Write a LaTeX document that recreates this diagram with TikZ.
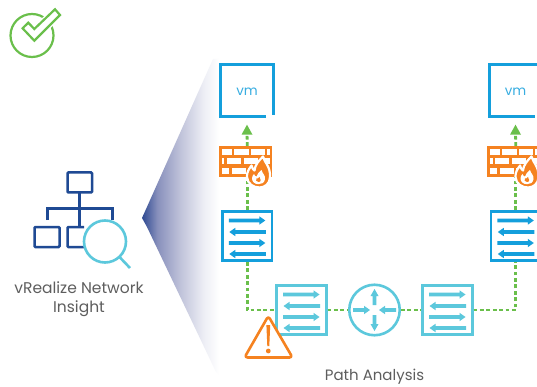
\documentclass[tikz,border=0pt]{standalone}
\usepackage{fontspec}
\setmainfont{Poppins}
\usetikzlibrary{arrows.meta,calc}
\definecolor{dkblue}{HTML}{1F4A94}
\definecolor{blu}{HTML}{149FDC}
\definecolor{cyn}{HTML}{5CC8DC}
\definecolor{grn}{HTML}{6ABF4B}
\definecolor{org}{HTML}{F58220}
\definecolor{txt}{HTML}{5E5E5E}
\definecolor{cone0}{HTML}{2F4A92}
\definecolor{cone1}{HTML}{8890BC}
\definecolor{cone2}{HTML}{C0C3DA}
\definecolor{cone3}{HTML}{EDEEF5}
\pgfdeclarehorizontalshading{conefade}{100bp}{
  color(0bp)=(cone0);
  color(25bp)=(cone0);
  color(35bp)=(cone1);
  color(50bp)=(cone2);
  color(65bp)=(cone3);
  color(75bp)=(white);
  color(100bp)=(white)}
\tikzset{
  swbox/.style={draw=#1,line width=2.6pt,fill=white,minimum width=49.5pt,minimum height=49.5pt,inner sep=0pt,outer sep=1.3pt},
  link/.style={draw=grn,line width=2.8pt,dash pattern=on 3.8pt off 2.6pt},
  label/.style={text=txt,font=\fontsize{15}{18}\selectfont,align=center,inner sep=0pt},
  bricks/.style={fill=white},
}
% horizontal arrow as a filled outline: start x, end x, y (relative)
\newcommand{\harrow}[4]{%
  \fill[#4] (#1,#3-1.9) -- ({#2-(#2-#1)/abs(#2-#1)*6},#3-1.9) -- ({#2-(#2-#1)/abs(#2-#1)*6},#3-4.2) -- (#2,#3)
    -- ({#2-(#2-#1)/abs(#2-#1)*6},#3+4.2) -- ({#2-(#2-#1)/abs(#2-#1)*6},#3+1.9) -- (#1,#3+1.9) -- cycle;}
\newcommand{\swarrows}[3]{%
  \begin{scope}[shift={(#1,#2)}]
    \harrow{-18.5}{18}{-15.5}{#3}
    \harrow{18.5}{-18}{-4}{#3}
    \harrow{-18.5}{18}{7}{#3}
    \harrow{18.5}{-18}{18}{#3}
  \end{scope}}
\newcommand{\firewall}[2]{%
  \begin{scope}[shift={(#1,#2)}]
    \fill[org] (0,0) rectangle (53.5,31);
    \foreach \a/\b/\c/\d in {3/13/3/9,15/30/3/9,32/46/3/9,48/51/3/9,
      3/5.5/12.5/18.5,8/22/12.5/18.5,25/39/12.5/18.5,41/51/12.5/18.5,
      3/10/22/28,13/27/22/28,29/44/22/28,46/51/22/28}
      \fill[bricks] (\a,\c) rectangle (\b,\d);
    % flame
    \path[fill=org,draw=white,line width=2.2pt,line join=round]
      (44.5,10.5) .. controls (46,17) and (52,20) .. (51.5,31)
      .. controls (51.5,38) and (46,41.5) .. (41,41.5)
      .. controls (35,41.5) and (29,38) .. (28.5,31)
      .. controls (28,26) and (31,22.5) .. (33,19.5)
      .. controls (33.5,22) and (34.5,23.5) .. (36,24.5)
      .. controls (36.5,19) and (40,15) .. (44.5,10.5) -- cycle;
    \path[fill=white]
      (43,24) .. controls (44,28) and (47,29) .. (46.5,33)
      .. controls (46,37) and (43,38.2) .. (40,38.2)
      .. controls (36.5,38.2) and (33.5,36) .. (33.5,32.5)
      .. controls (33.5,30.5) and (34.5,29) .. (35.5,28)
      .. controls (36,29.5) and (37,30.5) .. (38,30.5)
      .. controls (38.5,28) and (40.5,26) .. (43,24) -- cycle;
    \path[fill=org]
      (41,31) .. controls (42.5,33) and (43,36) .. (40,36)
      .. controls (37.5,36) and (37,34) .. (38,32.5)
      .. controls (38.8,33) and (40,32.5) .. (41,31) -- cycle;
  \end{scope}}
\newcommand{\vmbox}[3]{%
  \node[draw=none,minimum size=52pt,inner sep=0pt] (#3) at (#1,#2) {};
  \draw[blu,line width=2.8pt] ($(#3.south east)+(-7,0)$) -- (#3.south west) -- (#3.north west) -- (#3.north east) -- ($(#3.south east)+(0,-1.2)$);
  \node[text=blu!85!white,font=\fontsize{13.5}{16}\selectfont,inner sep=0pt] at (#1,#2+0.8) {vm};
}
\begin{document}
\begin{tikzpicture}[x=1pt,y=-1pt]
\useasboundingbox (0,0) rectangle (537,387);
\clip (0,0) rectangle (537,387);
\fill[white] (0,0) rectangle (537,387);

% cone
\shade[shading=conefade]
  (142,218) -- (146.5,208) -- (213,59) -- (219,59) -- (219,375) -- (216,372) -- (147,227) -- cycle;

% check logo
\draw[grn,line width=2.2pt] (32,35.5) circle (21.5);
\path[fill=white,draw=white,line width=5pt,line join=miter]
  (55,9.3) -- (60,15) -- (34.3,40.7) -- (22.6,28.3) -- (28.3,22.7) -- (34.3,29) -- cycle;
\path[fill=white,draw=grn,line width=2.2pt]
  (55,9.3) -- (60,15) -- (34.3,40.7) -- (22.6,28.3) -- (28.3,22.7) -- (34.3,29) -- cycle;

% vms
\vmbox{247}{90.5}{vma}
\vmbox{515.5}{90.5}{vmb}

% switches and router
\node[swbox=blu] (swa) at (247.3,236) {};
\node[swbox=blu] (swb) at (515.8,236) {};
\node[swbox=cyn] (swc) at (301.5,310) {};
\node[swbox=cyn] (swd) at (447.5,310) {};
\node[draw=cyn,line width=2.6pt,circle,minimum size=50.5pt,inner sep=0pt,outer sep=1.3pt,fill=white] (rt) at (374.5,310) {};

% firewall anchors
\coordinate (fwa) at (247.3,176);
\coordinate (fwb) at (515.8,176);
\coordinate (fwat) at (247.3,146);
\coordinate (fwbt) at (515.8,146);

% links
\draw[link] (swa.south) |- (swc.west);
\draw[link] (swc.east) -- (rt.west);
\draw[link] (rt.east) -- (swd.west);
\draw[link] (swd.east) -| (swb.south);
\draw[link] (swa.north) -- (fwa);
\draw[link] (swb.north) -- (fwb);
\draw[link] (fwat) -- ($(vma.south)+(0,16)$);
\draw[link] (fwbt) -- ($(vmb.south)+(0,16)$);
\fill[grn] ($(vma.south)+(0,8)$) -- ++(5.5,10) -- ++(-11,0) -- cycle;
\fill[grn] ($(vmb.south)+(0,8)$) -- ++(5.5,10) -- ++(-11,0) -- cycle;

\firewall{218.5}{146}
\firewall{487}{146}

\swarrows{247.3}{236}{blu}
\swarrows{515.8}{236}{blu}
\swarrows{301.5}{310}{cyn}
\swarrows{447.5}{310}{cyn}

% router arrows
\harrow{353}{370}{310}{cyn}
\harrow{396}{379}{310}{cyn}
\fill[cyn] (374.5,289) -- (378.5,296) -- (376.4,296) -- (376.4,305) -- (372.6,305) -- (372.6,296) -- (370.5,296) -- cycle;
\fill[cyn] (374.5,331) -- (378.5,324) -- (376.4,324) -- (376.4,315) -- (372.6,315) -- (372.6,324) -- (370.5,324) -- cycle;

% warning
\path[fill=white,draw=org,line join=round,line width=2.6pt,rounded corners=3pt]
  (268.3,316) -- (292.5,357.5) -- (244.5,357.5) -- cycle;
\fill[org] (266.4,325) -- (270.2,325) -- (269.3,346) -- (267.3,346) -- cycle;
\fill[org] (268.3,351) circle (2.4);

% org chart icon
\begin{scope}[draw=dkblue,line width=2.5pt]
  \draw[rounded corners=1pt] (67.5,172.5) rectangle (92,192.5);
  \draw (79.6,192.5) -- (79.6,227);
  \draw (47.5,220) -- (47.5,208.5) -- (112.5,208.5) -- (112.5,220);
  \draw[rounded corners=1pt] (34.5,227) rectangle (59.5,247);
  \draw[rounded corners=1pt] (84,227) -- (67.5,227) -- (67.5,247) -- (84,247);
\end{scope}
\draw[cyn,line width=2.6pt,fill=white] (105,241.5) circle (21);
\draw[cyn,line width=2.6pt] (119.5,257) -- (130,268);

% labels
\node[label,font=\fontsize{15.5}{18}\selectfont] (vrni) at (79,299.5) {vRealize Network\\[1pt]Insight};
\node[label] (path) at (374.5,377) {Path Analysis};
\end{tikzpicture}
\end{document}
